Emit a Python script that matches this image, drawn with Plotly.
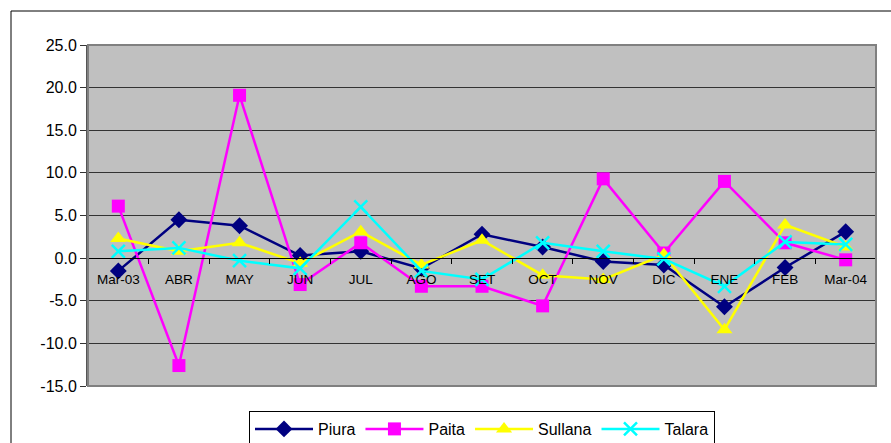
import plotly.graph_objects as go

months = ["Mar-03", "ABR", "MAY", "JUN", "JUL", "AGO", "SET", "OCT", "NOV", "DIC", "ENE", "FEB", "Mar-04"]
piura = [-1.5, 4.5, 3.8, 0.3, 0.8, -1.2, 2.8, 1.3, -0.4, -0.8, -5.7, -1.1, 3.1]
paita = [6.1, -12.6, 19.1, -3.1, 1.8, -3.3, -3.3, -5.6, 9.3, 0.6, 9.0, 1.8, -0.2]
sullana = [2.3, 0.8, 1.8, -0.6, 3.1, -0.8, 2.1, -2.0, -2.5, 0.4, -8.4, 3.9, 1.3]
talara = [0.8, 1.2, -0.3, -1.2, 6.0, -1.5, -2.5, 1.8, 0.8, -0.1, -3.3, 1.9, 1.6]
y_ticks = [-15, -10, -5, 0, 5, 10, 15, 20, 25]

series = [
    ("Piura", piura, "#000080", "diamond", 13),
    ("Paita", paita, "#FF00FF", "square", 13),
    ("Sullana", sullana, "#FFFF00", "triangle-up", 14),
    ("Talara", talara, "#00FFFF", "x-thin-open", 13),
]

fig = go.Figure()
for name, vals, col, sym, sz in series:
    marker = dict(symbol=sym, size=sz, color=col)
    if sym == "x-thin-open":
        marker["line"] = dict(color=col, width=2.5)
    fig.add_trace(go.Scatter(
        x=months, y=vals, name=name, mode="lines+markers",
        line=dict(color=col, width=2.5), marker=marker, cliponaxis=False,
    ))

L, R, T, B = 88, 15, 45, 57
W, H = 891, 443
pw, ph = W - L - R, H - T - B

fig.update_layout(
    width=W, height=H,
    margin=dict(l=L, r=R, t=T, b=B, autoexpand=False),
    paper_bgcolor="white",
    plot_bgcolor="#C0C0C0",
    font=dict(family="Liberation Sans, Arial, sans-serif", color="black"),
    showlegend=True,
    legend=dict(
        orientation="h", x=0.5, xanchor="center", y=(T + ph - 411) / ph, yanchor="top",
        bordercolor="black", borderwidth=1, bgcolor="white",
        font=dict(size=16), itemwidth=58, tracegroupgap=0,
    ),
    xaxis=dict(
        type="category", range=[-0.5, len(months) - 0.5],
        anchor="free", position=(ph - (258.3 - T)) / ph,
        showline=True, linecolor="black", linewidth=1,
        ticks="outside", tickson="boundaries", ticklen=5, tickcolor="black",
        tickfont=dict(size=13.5), showgrid=False, zeroline=False,
        ticklabelstandoff=8,
    ),
    yaxis=dict(
        range=[-15, 25], tickvals=y_ticks, ticktext=[f"{v:.1f}" for v in y_ticks],
        showgrid=True, gridcolor="#333333", gridwidth=1,
        zeroline=True, zerolinecolor="black", zerolinewidth=1,
        showline=True, linecolor="#555555", linewidth=2,
        ticks="outside", ticklen=6, tickcolor="#333333",
        tickfont=dict(size=16),
    ),
    shapes=[
        dict(type="rect", xref="paper", yref="paper", x0=0, x1=1, y0=0, y1=1,
             line=dict(color="#808080", width=2), layer="above"),
        dict(type="rect", xref="paper", yref="paper",
             x0=(11 - L) / pw, x1=(W + 10 - L) / pw,
             y0=(T + ph - (H + 10)) / ph, y1=(T + ph - 11) / ph,
             line=dict(color="black", width=1), layer="below"),
    ],
)

fig.write_html("out.html", config={"displayModeBar": False},
               post_script="document.body.style.margin='0';")
